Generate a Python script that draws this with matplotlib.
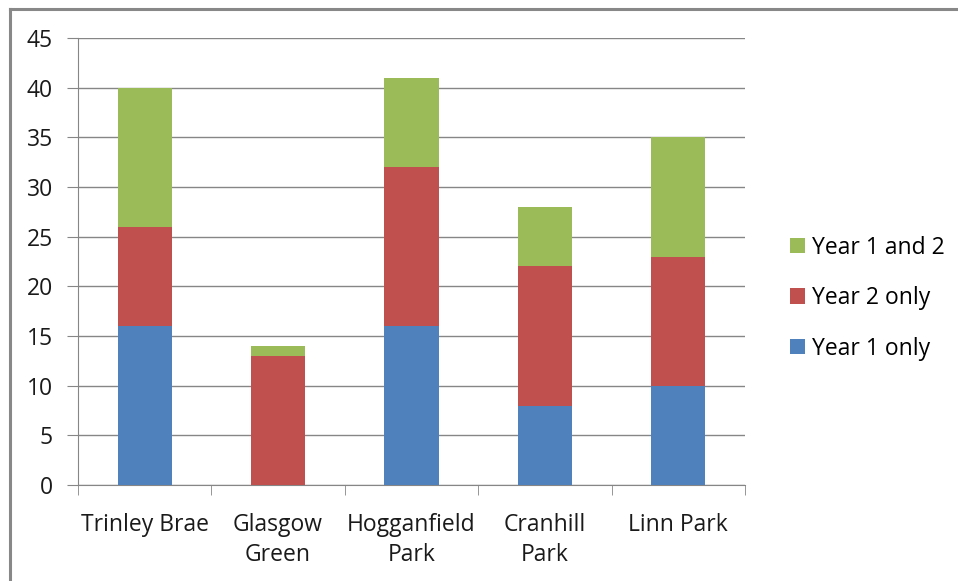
import matplotlib.pyplot as plt
import numpy as np
from matplotlib.lines import Line2D

# Chart data
parks = ["Trinley Brae", "Glasgow\nGreen", "Hogganfield\nPark", "Cranhill\nPark", "Linn Park"]
year1_only = [16, 0, 16, 8, 10]
year2_only = [10, 13, 16, 14, 13]
year1_and_2 = [14, 1, 9, 6, 12]
yticks = [0, 5, 10, 15, 20, 25, 30, 35, 40, 45]

blue = "#4F81BD"
red = "#C0504D"
green = "#9BBB59"
grid_col = "#868686"

plt.rcParams["font.family"] = ["Open Sans", "DejaVu Sans"]

fig = plt.figure(figsize=(9.58, 5.81), dpi=100)
ax = fig.add_axes([0.0814, 0.1652, 0.6963, 0.7694])

x = np.arange(len(parks))
b1 = np.array(year1_only)
b2 = b1 + np.array(year2_only)

h1 = ax.bar(x, year1_only, width=0.405, color=blue, zorder=3)
h2 = ax.bar(x, year2_only, width=0.405, bottom=b1, color=red, zorder=3)
h3 = ax.bar(x, year1_and_2, width=0.405, bottom=b2, color=green, zorder=3)

ax.set_xlim(-0.5, len(parks) - 0.5)
ax.set_ylim(0, 45)
ax.set_yticks(yticks)
ax.yaxis.grid(True, color=grid_col, linewidth=1)
ax.set_axisbelow(True)

for s in ["top", "right"]:
    ax.spines[s].set_visible(False)
ax.spines["left"].set_color(grid_col)
ax.spines["bottom"].set_color(grid_col)

# category labels centred, ticks on category boundaries
ax.set_xticks(x)
ax.set_xticklabels(parks, fontsize=16.5, color="#1a1a1a", linespacing=1.35)
ax.tick_params(axis="x", length=0, pad=20)
ax.set_xticks(np.arange(-0.5, len(parks)), minor=True)
ax.tick_params(axis="x", which="minor", length=7, color=grid_col, direction="out")
ax.tick_params(axis="y", length=8, color=grid_col, labelsize=16.5, labelcolor="#1a1a1a", pad=10)

ax.legend([h3, h2, h1], ["Year 1 and 2", "Year 2 only", "Year 1 only"],
          loc="center left", bbox_to_anchor=(1.05, 0.418), frameon=False,
          fontsize=16.5, handlelength=0.65, handleheight=0.65, handletextpad=0.3,
          labelspacing=1.15, borderpad=0)

# outer chart border (top and left visible)
fig.add_artist(Line2D([9.5 / 958, 1.0], [1 - 8.5 / 581, 1 - 8.5 / 581],
                      transform=fig.transFigure, color="#888888", linewidth=2.2))
fig.add_artist(Line2D([9.5 / 958, 9.5 / 958], [0.0, 1 - 8.5 / 581],
                      transform=fig.transFigure, color="#888888", linewidth=2.2))

fig.savefig("out.png", dpi=100)
